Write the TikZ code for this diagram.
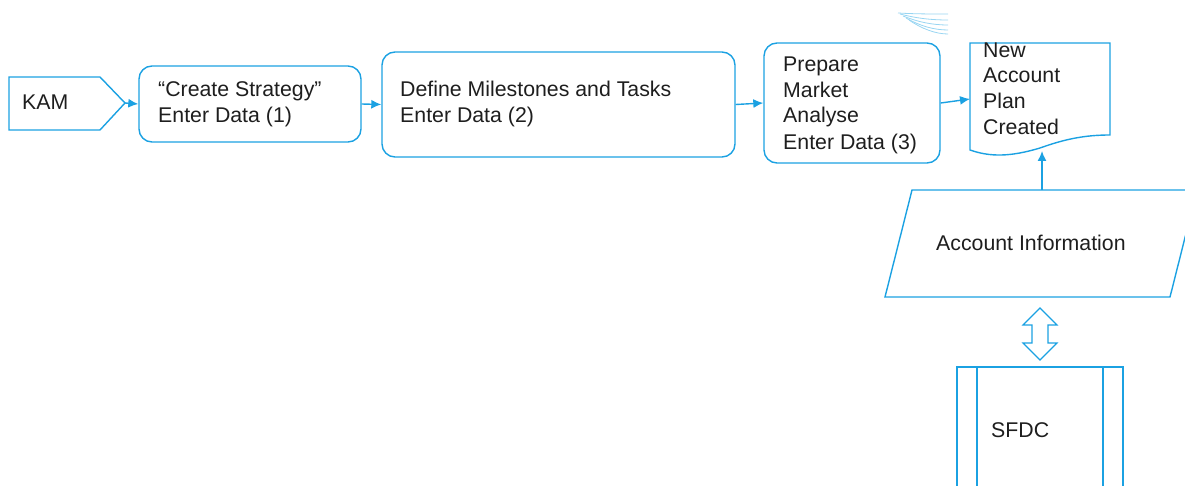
\documentclass[tikz,border=0pt]{standalone}
\usepackage{fontspec}
\setmainfont{Liberation Sans}
\usetikzlibrary{arrows.meta}
\definecolor{fc}{RGB}{27,161,226}
\definecolor{tc}{RGB}{30,30,30}
\begin{document}
\begin{tikzpicture}[x=1pt,y=-1pt,
  shp/.style={draw=fc,line width=1.4pt},
  rbox/.style={shp,rounded corners=13pt,inner sep=0pt},
  lbl/.style={anchor=base west,inner sep=0pt,text=tc,font=\fontsize{21.3}{26}\selectfont},
  conn/.style={draw=fc,line width=1.4pt,-{Latex[length=10pt,width=9pt]}},
  fan/.style={draw=fc!45,line width=0.8pt}]
\useasboundingbox (0,0) rectangle (1185,486);
% KAM
\draw[shp] (9,77) -- (100,77) -- (125,103) -- (100,130) -- (9,130) -- cycle;
\coordinate (kam) at (125,103);
\node[lbl] at (22,110) {KAM};
% boxes
\node[rbox,minimum width=222pt,minimum height=76pt] (b1) at (250,104) {};
\node[lbl] at (158,97) {“Create Strategy”};
\node[lbl] at (158,123) {Enter Data (1)};
\node[rbox,minimum width=353pt,minimum height=105pt] (b2) at (558.5,104.5) {};
\node[lbl] at (400,97) {Define Milestones and Tasks};
\node[lbl] at (400,123) {Enter Data (2)};
\node[rbox,minimum width=176pt,minimum height=120pt] (b3) at (852,103) {};
\node[lbl] at (783,72) {Prepare};
\node[lbl] at (783,98) {Market};
\node[lbl] at (783,123) {Analyse};
\node[lbl] at (783,150) {Enter Data (3)};
% document
\draw[shp] (970,43) -- (1110,43) -- (1110,135)
  .. controls (1085,135) and (1065,139) .. (1040,148)
  .. controls (1010,157) and (990,157) .. (970,150) -- cycle;
\coordinate (docl) at (970,99);
\coordinate (docb) at (1042,151);
\node[lbl] at (983,58) {New};
\node[lbl] at (983,83) {Account};
\node[lbl] at (983,109) {Plan};
\node[lbl] at (983,135) {Created};
% connectors
\draw[conn] (kam) -- (b1.west);
\draw[conn] (b1.east) -- (b2.west);
\draw[conn] (b2.east) -- (b3.west);
\draw[conn] (b3.east) -- (docl);
% parallelogram
\draw[shp] (912,190) -- (1197,190) -- (1170,297) -- (885,297) -- cycle;
\coordinate (pt) at (1042,190);
\node[lbl] at (936,251) {Account Information};
\draw[conn] (pt) -- (docb);
% double arrow
\draw[shp,line width=1.2pt] (1040,308) -- (1057,325) -- (1048,325) -- (1048,343) -- (1057,343)
  -- (1040,360) -- (1023,343) -- (1032,343) -- (1032,325) -- (1023,325) -- cycle;
% SFDC
\draw[shp] (957,500) -- (957,367) -- (1123,367) -- (1123,500);
\draw[shp] (977,367) -- (977,500);
\draw[shp] (1103,367) -- (1103,500);
\node[lbl] at (991,437) {SFDC};
% fan decoration
\draw[fan] (898,13) .. controls (915,14) and (930,14) .. (948,14);
\draw[fan] (900,14) .. controls (915,18) and (930,20) .. (948,20);
\draw[fan] (903,16) .. controls (918,22) and (932,25) .. (948,25);
\draw[fan] (906,18) .. controls (920,26) and (934,30) .. (948,30);
\draw[fan] (909,20) .. controls (922,29) and (936,34) .. (948,34);
\end{tikzpicture}
\end{document}
